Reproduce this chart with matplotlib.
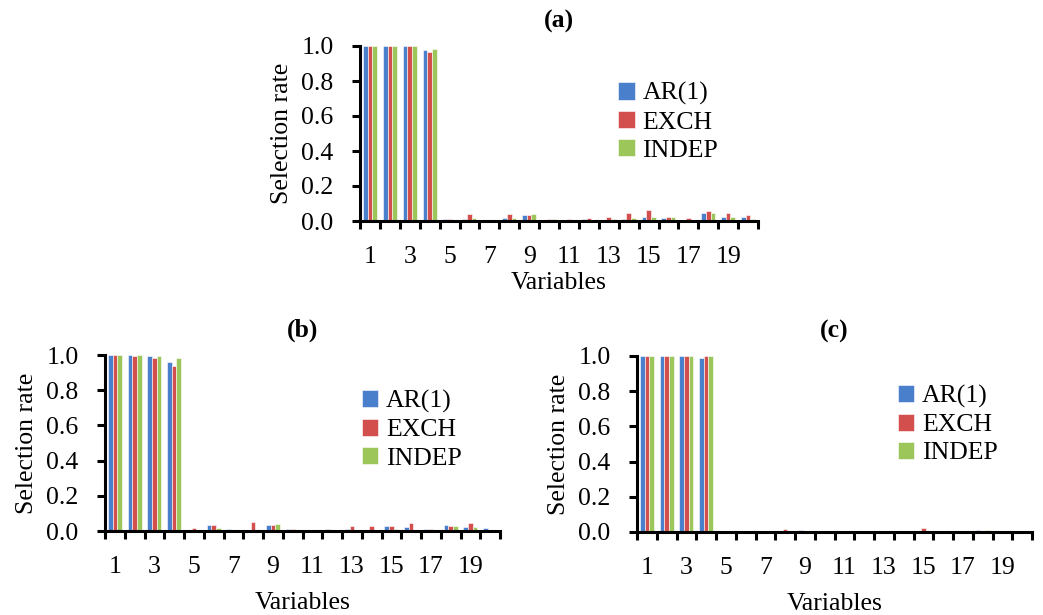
import numpy as np
import matplotlib.pyplot as plt

plt.rcParams['font.family'] = ['Liberation Serif', 'DejaVu Serif']

variables = np.arange(1, 21)
series = ["AR(1)", "EXCH", "INDEP"]
colors = ["#4A7FCB", "#D24F4D", "#9CC55A"]

# panel (a)
a_ar1 = [1.0, 1.0, 1.0, 0.975, 0.013, 0.01, 0.0, 0.017, 0.032, 0.0,
         0.0, 0.01, 0.0, 0.012, 0.025, 0.02, 0.0, 0.044, 0.023, 0.023]
a_exch = [1.0, 1.0, 1.0, 0.965, 0.01, 0.042, 0.0, 0.038, 0.032, 0.013,
          0.01, 0.017, 0.025, 0.045, 0.065, 0.025, 0.019, 0.057, 0.048, 0.034]
a_indep = [1.0, 1.0, 1.0, 0.985, 0.0, 0.017, 0.0, 0.017, 0.038, 0.01,
           0.0, 0.0, 0.01, 0.02, 0.025, 0.025, 0.0, 0.044, 0.023, 0.013]

# panel (b)
b_ar1 = [1.0, 1.0, 0.994, 0.962, 0.0, 0.036, 0.011, 0.008, 0.036, 0.01,
         0.0, 0.011, 0.011, 0.0, 0.03, 0.025, 0.011, 0.036, 0.025, 0.019]
b_exch = [1.0, 0.994, 0.985, 0.939, 0.019, 0.036, 0.008, 0.049, 0.036, 0.01,
          0.0, 0.008, 0.03, 0.03, 0.03, 0.044, 0.011, 0.03, 0.044, 0.008]
b_indep = [1.0, 1.0, 0.994, 0.981, 0.006, 0.019, 0.0, 0.004, 0.04, 0.0,
           0.004, 0.006, 0.004, 0.0, 0.011, 0.004, 0.0, 0.03, 0.025, 0.008]

# panel (c)
c_ar1 = [1.0, 1.0, 1.0, 0.99, 0.0, 0.0, 0.0, 0.004, 0.01, 0.0,
         0.0, 0.0, 0.0, 0.0, 0.004, 0.0, 0.0, 0.01, 0.0, 0.0]
c_exch = [1.0, 1.0, 1.0, 1.0, 0.006, 0.0, 0.0, 0.015, 0.0, 0.0,
          0.006, 0.0, 0.006, 0.0, 0.02, 0.0, 0.0, 0.008, 0.006, 0.0]
c_indep = [1.0, 1.0, 1.0, 1.0, 0.0, 0.0, 0.0, 0.0, 0.0, 0.0,
           0.0, 0.0, 0.0, 0.0, 0.0, 0.0, 0.0, 0.01, 0.0, 0.0]

W, H = 1043, 615
FS = 18.5
fig = plt.figure(figsize=(W / 100, H / 100), dpi=100)


def panel(box, data, title, leg_xy, xpad, xlabpad):
    left, top, right, bottom = box
    ax = fig.add_axes([left / W, 1 - bottom / H, (right - left) / W, (bottom - top) / H])
    w = 0.235
    for i, (vals, name, col) in enumerate(zip(data, series, colors)):
        ax.bar(variables + (i - 1) * w, vals, width=w, color=col,
               edgecolor="white", linewidth=0.4, label=name)
    ax.set_xlim(0.5, 20.5)
    ax.set_ylim(0, 1.0)
    yt = np.arange(0, 1.01, 0.2)
    ax.set_yticks(yt)
    ax.set_yticklabels([f"{v:.1f}" for v in yt])
    ax.set_xticks(variables[::2])
    ax.set_xticks(np.arange(0.5, 21, 1), minor=True)
    ax.tick_params(axis="x", which="major", length=0, pad=xpad, labelsize=FS)
    ax.tick_params(axis="x", which="minor", length=6, width=2.2, direction="out")
    ax.tick_params(axis="y", length=6, width=2.2, direction="out", pad=13, labelsize=FS)
    for s in ["top", "right"]:
        ax.spines[s].set_visible(False)
    for s in ["left", "bottom"]:
        ax.spines[s].set_linewidth(2.2)
    ax.set_ylabel("Selection rate", fontsize=FS, labelpad=6)
    ax.set_xlabel("Variables", fontsize=FS, labelpad=xlabpad)
    ax.set_title(title, fontsize=FS, fontweight="bold", pad=13)
    ax.legend(loc="center left", bbox_to_anchor=leg_xy, frameon=False,
              fontsize=FS, handlelength=0.65, handleheight=0.65,
              handletextpad=0.3, labelspacing=0.22, borderpad=0, borderaxespad=0)
    return ax


panel((360, 46, 758, 221), [a_ar1, a_exch, a_indep], "(a)", (0.648, 0.565), 18, 3)
panel((105, 355, 500, 531), [b_ar1, b_exch, b_indep], "(b)", (0.65, 0.575), 18, 10)
panel((637, 356, 1032, 532), [c_ar1, c_exch, c_indep], "(c)", (0.66, 0.61), 18, 10)

fig.savefig("out.png", dpi=100)
